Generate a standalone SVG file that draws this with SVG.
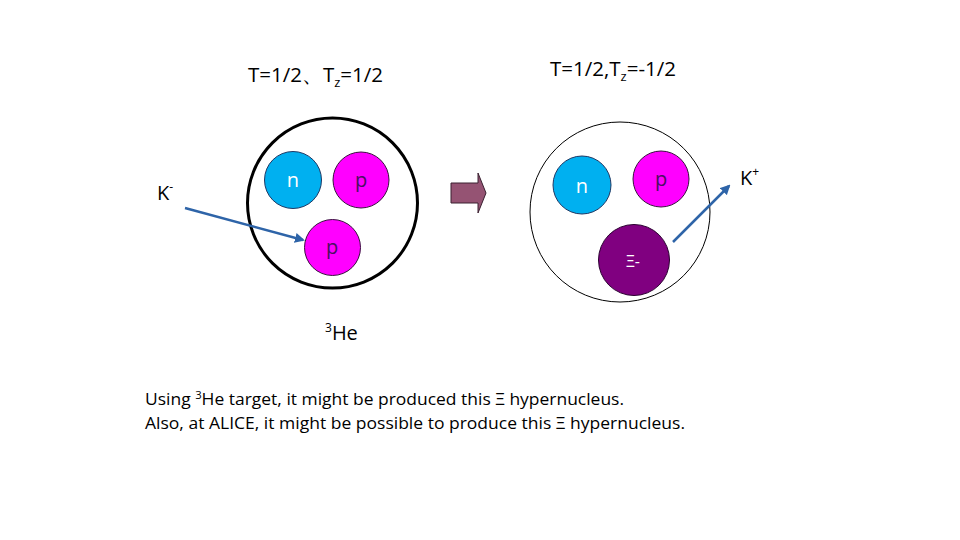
<svg xmlns="http://www.w3.org/2000/svg" width="960" height="540" viewBox="0 0 960 540">
<style>
text{font-family:"Open Sans","Liberation Sans",sans-serif;fill:#000}
.n{fill:#00B0F0;stroke:#1F3864;stroke-width:1}
.p{fill:#FF00FF;stroke:#3A1040;stroke-width:1}
.x{fill:#800080;stroke:#2A0030;stroke-width:1}
.lbl{font-size:20px;text-anchor:middle}
.conn{stroke:#2E64A8;stroke-width:2.5;fill:none;marker-end:url(#ah)}
</style>
<defs>
<marker id="ah" viewBox="0 0 10 10" refX="8" refY="5" markerWidth="4" markerHeight="4" orient="auto" markerUnits="strokeWidth">
<path d="M0,0 L10,5 L0,10 z" fill="#2E64A8"/>
</marker>
</defs>
<rect width="960" height="540" fill="#fff"/>
<g id="title-left"><text x="248" y="82" font-size="20.5">T=1/2、T<tspan font-size="13" dy="5">z</tspan><tspan dy="-5">=1/2</tspan></text></g>
<g id="title-right"><text x="550" y="76" font-size="20.5">T=1/2,T<tspan font-size="13" dy="5">z</tspan><tspan dy="-5">=-1/2</tspan></text></g>
<g id="he3-nucleus"><circle cx="332.5" cy="203" r="85" fill="#fff" stroke="#000" stroke-width="3"/></g>
<g id="n-left"><circle class="n" cx="293" cy="180" r="28.5"/><text class="lbl" x="293" y="187" style="fill:#fff">n</text></g>
<g id="p-left-top"><circle class="p" cx="361" cy="180" r="28"/><text class="lbl" x="361" y="187" style="fill:#4B1060">p</text></g>
<g id="p-left-bottom"><circle class="p" cx="332.5" cy="247.5" r="28"/><text class="lbl" x="332" y="254" style="fill:#4B1060">p</text></g>
<g id="label-kminus"><text x="157" y="200" font-size="20">K<tspan font-size="12" dy="-9">-</tspan></text></g>
<g id="label-he3"><text x="325" y="340" font-size="20"><tspan font-size="12" dy="-8">3</tspan><tspan dy="8">He</tspan></text></g>
<g id="block-arrow"><path d="M451,183 L478,183 L478,173 L486,193 L478,213 L478,203 L451,203 Z" fill="#955373" stroke="#3A2030" stroke-width="1"/></g>
<g id="hypernucleus"><circle cx="620" cy="212" r="90" fill="#fff" stroke="#000" stroke-width="1"/></g>
<g id="n-right"><circle class="n" cx="582" cy="185" r="29"/><text class="lbl" x="582" y="193" style="fill:#fff">n</text></g>
<g id="p-right"><circle class="p" cx="661" cy="179" r="28"/><text class="lbl" x="661" y="186" style="fill:#4B1060">p</text></g>
<g id="xi-right"><circle class="x" cx="634" cy="260" r="35.5"/><text x="626" y="267" font-size="16" style="fill:#fff">Ξ-</text></g>
<g id="label-kplus"><text x="740" y="185" font-size="20">K<tspan font-size="12" dy="-9">+</tspan></text></g>
<g id="connectors">
<line class="conn" x1="185" y1="208" x2="303" y2="240"/>
<line class="conn" x1="673" y1="242" x2="729" y2="186"/>
</g>
<g id="caption">
<text x="145" y="405" font-size="17" textLength="479" lengthAdjust="spacingAndGlyphs">Using <tspan font-size="11" dy="-6">3</tspan><tspan dy="6">He target, it might be produced this Ξ hypernucleus.</tspan></text>
<text x="145" y="429" font-size="17" textLength="540" lengthAdjust="spacingAndGlyphs">Also, at ALICE, it might be possible to produce this Ξ hypernucleus.</text>
</g>
</svg>
